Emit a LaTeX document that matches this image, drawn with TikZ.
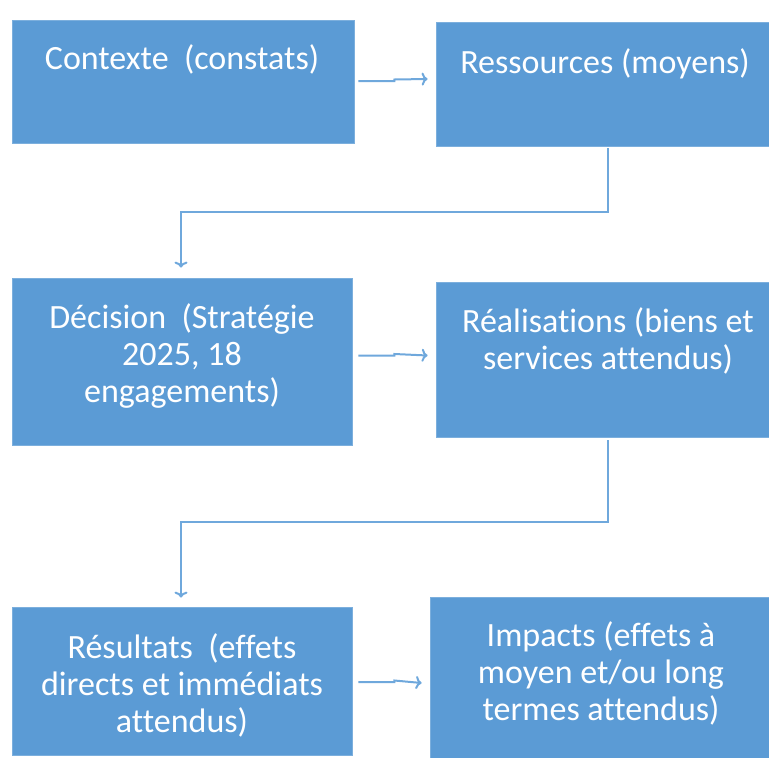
\documentclass[tikz,border=0pt]{standalone}
\usepackage{fontspec}
\setmainfont{Carlito}[Ligatures=NoCommon]
\usepackage{tikz}
\usetikzlibrary{arrows,arrows.meta,calc}
\definecolor{bleu}{HTML}{5B9BD5}
\definecolor{bleutrait}{HTML}{6FA8DC}

\begin{document}
\begin{tikzpicture}[x=1pt,y=-1pt,
  bloc/.style={fill=bleu,draw=bleu!80!white,line width=0.8pt,inner sep=0pt},
  txt/.style={text=white,align=center,font=\fontsize{34}{37}\selectfont},
  lien/.style={draw=bleutrait,line width=2pt,-{To[length=6pt,width=13pt]}}]
\useasboundingbox (0,0) rectangle (769,758);
% blocs
\node[bloc,minimum width=342,minimum height=123] (ctx) at (183,81.5) {};
\node[bloc,minimum width=338,minimum height=124] (res) at (605,84) {};
\node[bloc,minimum width=340,minimum height=167] (dec) at (182,361.5) {};
\node[bloc,minimum width=338,minimum height=155] (rea) at (605,359.5) {};
\node[bloc,minimum width=340,minimum height=148] (rsl) at (182,681) {};
\node[bloc,minimum width=342,minimum height=180] (imp) at (601,687) {};
% textes
\node[txt] (tctx) at (182,59) {Contexte\ \ (constats)};
\node[txt] (tres) at (605,64) {Ressources (moyens)};
\node[txt] (tdec) at (182,356) {Décision\ \ (Stratégie\\2025, 18\\engagements)};
\node[txt] (trea) at (608,341) {Réalisations (biens et\\services attendus)};
\node[txt] (trsl) at (182,685) {Résultats\ \ (effets\\directs et immédiats\\attendus)};
\node[txt] (timp) at (601,673) {Impacts (effets à\\moyen et/ou long\\termes attendus)};
% liens
\draw[lien] ($(ctx.east)+(4,-0.5)$) -- ++(36,0) -- ++(0,-1.5) -- ($(res.west)+(-8,-5)$);
\draw[lien] ($(dec.east)+(6,-6)$) -- ++(36,0) -- ++(0,-1.5) -- ($(rea.west)+(-8,-4)$);
\draw[lien] ($(rsl.east)+(6,1)$) -- ++(36,0) -- ++(0,-1.5) -- ($(imp.west)+(-8,-4)$);
\draw[lien] ($(res.south)+(3,2)$) -- ++(0,64) -| ($(dec.north)+(-1,-10)$);
\draw[lien] ($(rea.south)+(3,3)$) -- ++(0,82) -| ($(rsl.north)+(-1,-9)$);
\end{tikzpicture}
\end{document}
